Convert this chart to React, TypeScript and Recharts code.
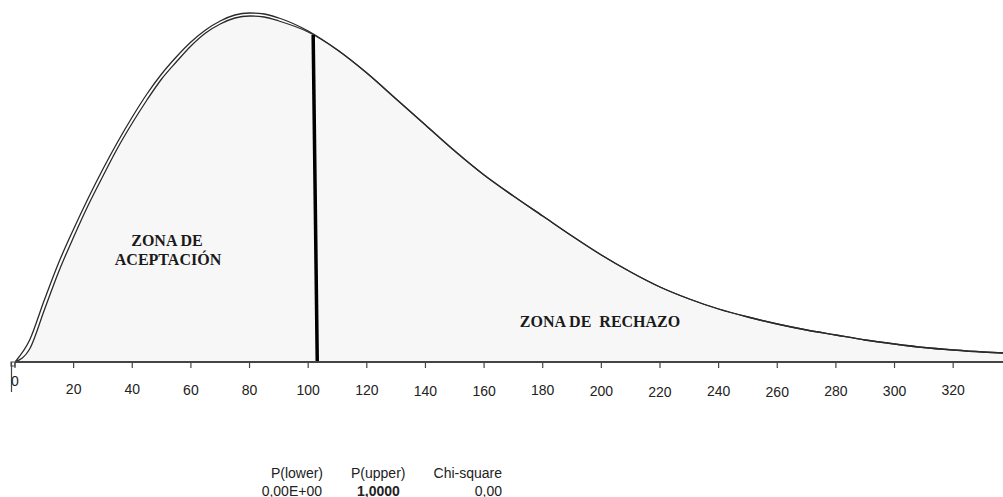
import { Area, ComposedChart, Line, ReferenceLine, XAxis, YAxis } from "recharts";

// x positions on the chi-square axis
const X_VALUES = [
  0, 5, 10, 15, 20, 25, 30, 35, 40, 45, 50, 55, 60, 65, 70, 75, 80, 85, 90,
  100, 110, 120, 130, 140, 150, 160, 170, 180, 190, 200, 210, 220, 230, 240,
  250, 260, 270, 280, 290, 300, 310, 320, 330, 337,
];
// outer (upper-left) density curve, relative height
const OUTER = [
  0, 22, 62, 100, 133, 164, 193, 220, 245, 268, 288, 305, 320, 332, 341, 347,
  349, 348, 344, 331, 312, 289, 263, 237, 211, 187, 166, 146, 126, 107, 90, 75,
  63, 53, 45, 38, 32, 27, 22, 18, 14.5, 12, 10, 9,
];
// inner (filled) density curve
const INNER = [
  0, 13, 52, 91, 125, 157, 186, 214, 239, 262, 283, 300, 316, 329, 338, 344,
  346, 345, 341, 330, 312, 289, 263, 237, 211, 187, 166, 146, 126, 107, 90, 75,
  63, 53, 45, 38, 32, 27, 22, 18, 14.5, 12, 10, 9,
];
const TICKS = [
  0, 20, 40, 60, 80, 100, 120, 140, 160, 180, 200, 220, 240, 260, 280, 300, 320,
];
// critical value line (slightly slanted in the original)
const CRIT_TOP = { x: 101.7, y: 327 };
const CRIT_BOTTOM = { x: 103.1, y: 0 };

const RESULT_HEADERS = ["P(lower)", "P(upper)", "Chi-square"];
const RESULT_VALUES = ["0,00E+00", "1,0000", "0,00"];

// small vertical nudges of the tick labels, as in the picture
const TICK_DY = [-9, -1, -1, 0, 0, 0, 0, 1, 1, 0, 1, 2, 1, 2, 1, 1, 0];

const data = X_VALUES.map((x, i) => ({ x, outer: OUTER[i], inner: INNER[i] }));

const CustomTick = (props: any) => {
  const { x, y, payload, index } = props;
  const dy = TICK_DY[index] ?? 0;
  const axisY = y - 6;
  return (
    <g>
      {payload.value === 0 && (
        <>
          <rect x={x - 4} y={axisY} width={4} height={4} fill="none" stroke="#444" />
          <line x1={x - 3.5} y1={axisY} x2={x - 3.5} y2={axisY + 30} stroke="#444" strokeWidth={1.2} />
        </>
      )}
      <text
        x={x}
        y={y + 27 + dy}
        textAnchor="middle"
        fontSize={14}
        fontFamily="Liberation Sans, Arial, sans-serif"
        fill="#222"
      >
        {payload.value}
      </text>
    </g>
  );
};

const zoneStyle: React.CSSProperties = {
  position: "absolute",
  width: 240,
  textAlign: "center",
  fontFamily: "Liberation Serif, Times New Roman, serif",
  fontWeight: "bold",
  fontSize: 16,
  lineHeight: "18px",
  color: "#1a1a1a",
  whiteSpace: "pre",
};

const resStyle: React.CSSProperties = {
  position: "absolute",
  fontFamily: "Liberation Sans, Arial, sans-serif",
  fontSize: 14,
  lineHeight: "18px",
  color: "#222",
  whiteSpace: "pre",
};

export default function App() {
  return (
    <div
      style={{
        position: "absolute",
        left: 0,
        top: 0,
        width: 1003,
        height: 497,
        background: "#fff",
      }}
    >
      <ComposedChart
        width={1003}
        height={497}
        data={data}
        margin={{ top: 12, right: 0, left: 15, bottom: 100 }}
      >
        <XAxis
          type="number"
          dataKey="x"
          domain={[0, 337]}
          ticks={TICKS}
          allowDataOverflow
          height={35}
          tickSize={6}
          tickMargin={0}
          tick={<CustomTick />}
          tickLine={{ stroke: "#444", strokeWidth: 1.2 }}
          axisLine={{ stroke: "#444", strokeWidth: 2.2 }}
        />
        <YAxis
          type="number"
          domain={[0, 350]}
          width={0}
          tick={false}
          tickLine={false}
          axisLine={{ stroke: "#333", strokeWidth: 1.2 }}
        />
        <Area
          type="monotone"
          dataKey="inner"
          stroke="#2a2a2a"
          strokeWidth={1.3}
          fill="#f7f7f7"
          fillOpacity={1}
          dot={false}
          activeDot={false}
          isAnimationActive={false}
        />
        <Line
          type="monotone"
          dataKey="outer"
          stroke="#2a2a2a"
          strokeWidth={1.3}
          dot={false}
          activeDot={false}
          isAnimationActive={false}
        />
        <ReferenceLine
          segment={[CRIT_TOP, CRIT_BOTTOM]}
          stroke="#000"
          strokeWidth={3.5}
        />
      </ComposedChart>

      <div style={{ ...zoneStyle, left: 167 - 120, top: 232 }}>ZONA DE</div>
      <div style={{ ...zoneStyle, left: 168 - 120, top: 251 }}>ACEPTACIÓN</div>
      <div style={{ ...zoneStyle, left: 600 - 120, top: 313 }}>ZONA DE  RECHAZO</div>

      <div style={{ ...resStyle, right: 1003 - 323, top: 464 }}>{RESULT_HEADERS[0]}</div>
      <div style={{ ...resStyle, left: 351, top: 464 }}>{RESULT_HEADERS[1]}</div>
      <div style={{ ...resStyle, right: 1003 - 502, top: 464 }}>{RESULT_HEADERS[2]}</div>
      <div style={{ ...resStyle, right: 1003 - 322, top: 482 }}>{RESULT_VALUES[0]}</div>
      <div style={{ ...resStyle, left: 357, top: 482, fontWeight: "bold" }}>{RESULT_VALUES[1]}</div>
      <div style={{ ...resStyle, right: 1003 - 502, top: 482 }}>{RESULT_VALUES[2]}</div>
    </div>
  );
}
